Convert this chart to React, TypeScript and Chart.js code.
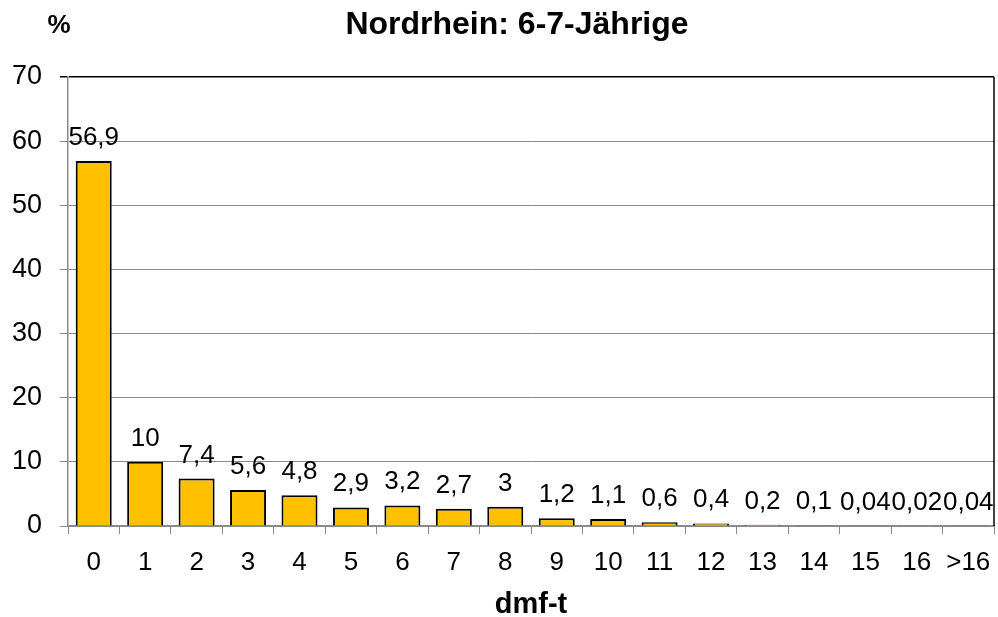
import React, { useEffect, useRef } from "react";
import { Chart, registerables } from "chart.js";

Chart.register(...registerables);

const categories = ["0", "1", "2", "3", "4", "5", "6", "7", "8", "9", "10", "11", "12", "13", "14", "15", "16", ">16"];
const values = [56.9, 10, 7.4, 5.6, 4.8, 2.9, 3.2, 2.7, 3, 1.2, 1.1, 0.6, 0.4, 0.2, 0.1, 0.04, 0.02, 0.04];
const titleText = "Nordrhein: 6-7-Jährige";
const xTitle = "dmf-t";
const yUnit = "%";

const FONT = "'Liberation Sans', Arial, sans-serif";
const GRID = "#8a8a8a";

export default function App() {
  const ref = useRef<HTMLCanvasElement | null>(null);
  useEffect(() => {
    document.body.style.margin = "0";
    const canvas = ref.current!;
    const textPlugin = {
      id: "texts",
      afterDatasetsDraw(chart: any) {
        const ctx = chart.ctx;
        const meta = chart.getDatasetMeta(0);
        ctx.save();
        ctx.fillStyle = "#000";
        ctx.font = `26px ${FONT}`;
        ctx.textAlign = "center";
        ctx.textBaseline = "alphabetic";
        meta.data.forEach((bar: any, i: number) => {
          const label = String(values[i]).replace(".", ",");
          ctx.fillText(label, bar.x, bar.y - 16);
        });
        const a = chart.chartArea;
        ctx.strokeStyle = "#000";
        ctx.lineWidth = 1.5;
        ctx.beginPath();
        ctx.moveTo(a.right, a.top);
        ctx.lineTo(a.right, a.bottom);
        ctx.stroke();
        ctx.font = `bold 32px ${FONT}`;
        ctx.fillText(titleText, 517, 34);
        ctx.font = `bold 26px ${FONT}`;
        ctx.fillText(yUnit, 59, 33);
        ctx.font = `bold 29px ${FONT}`;
        ctx.fillText(xTitle, 531, 613);
        ctx.restore();
      },
    };
    const chart = new Chart(canvas, {
      type: "bar",
      data: {
        labels: categories,
        datasets: [
          {
            data: values,
            backgroundColor: "#FFC000",
            borderColor: "#000",
            borderWidth: 2,
            barPercentage: 0.7,
            categoryPercentage: 1,
          },
        ],
      },
      options: {
        responsive: false,
        animation: false,
        layout: { padding: { top: 77, right: 4, left: 0, bottom: 0 } },
        plugins: { legend: { display: false }, tooltip: { enabled: false }, title: { display: false } },
        scales: {
          x: {
            afterFit: (s: any) => {
              s.height = 91;
              s.paddingLeft = 0;
              s.paddingRight = 0;
            },
            grid: { display: true, drawOnChartArea: false, drawTicks: true, tickLength: 8, color: GRID, offset: true },
            border: { display: true, color: GRID, width: 1.5 },
            ticks: { color: "#000", font: { family: FONT, size: 26 }, padding: 13, maxRotation: 0, autoSkip: false },
          },
          y: {
            min: 0,
            max: 70,
            afterFit: (s: any) => {
              s.width = 68;
              s.paddingTop = 0;
              s.paddingBottom = 0;
            },
            grid: {
              color: (c: any) => (c.tick && c.tick.value === 70 ? "#000" : GRID),
              lineWidth: (c: any) => (c.tick && c.tick.value === 70 ? 1.5 : 1),
              tickLength: 8,
              drawTicks: true,
            },
            border: { display: true, color: GRID, width: 1.5 },
            ticks: { stepSize: 10, color: "#000", font: { family: FONT, size: 27 }, padding: 18 },
          },
        },
      },
      plugins: [textPlugin],
    });
    return () => chart.destroy();
  }, []);
  return (
    <canvas ref={ref} width={998} height={617} style={{ display: "block", position: "absolute", left: 0, top: 0 }} />
  );
}
